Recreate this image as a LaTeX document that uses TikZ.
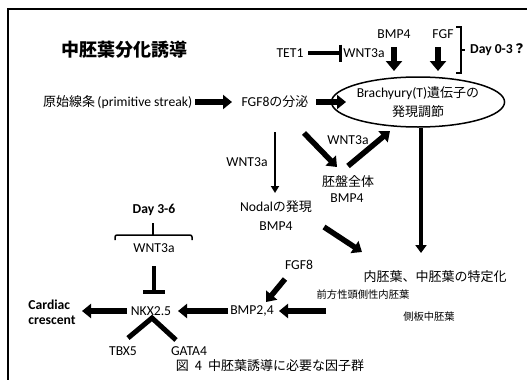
\documentclass[tikz,border=0pt]{standalone}
\usepackage{fontspec}
\setmainfont{Carlito}[Scale=1.05]
\newfontfamily\jp{Noto Sans CJK JP}
\usetikzlibrary{arrows.meta,shapes.geometric}
\begin{document}
\begin{tikzpicture}[x=1pt,y=-1pt,
  txt/.style={inner sep=0pt,font=\fontsize{13}{15}\selectfont},
  smalltxt/.style={inner sep=0pt,font=\jp\fontsize{10.3}{12}\selectfont},
  boldtxt/.style={inner sep=0pt,font=\bfseries\fontsize{13}{15}\selectfont},
  titletxt/.style={inner sep=0pt,font=\jp\bfseries\fontsize{18}{20}\selectfont},
  bigarrow/.style={line width=5.5pt,-{Triangle[width=14pt,length=9pt]}},
  downarrow/.style={line width=6pt,-{Triangle[width=16pt,length=10pt]}},
  medarrow/.style={line width=4pt,-{Triangle[width=11pt,length=8pt]}},
  thinarrow/.style={line width=2.5pt,-{Triangle[width=8pt,length=7pt]}},
  inhline/.style={line width=4.5pt},
  thinline/.style={line width=1.5pt}
]
\useasboundingbox (0,0) rectangle (527,380);
% frame
\draw[thinline] (527,9) -- (8,9) -- (8,380);

% nodes
\node[titletxt] (title) at (124,50) {中胚葉分化誘導};
\node[txt] (tet) at (290,53) {TET1};
\node[txt] (wnt1) at (364,53) {WNT3a};
\node[txt] (bmp4a) at (394,34) {BMP4};
\node[txt] (fgf) at (443,34) {FGF};
\node[boldtxt] (day03) at (498,50) {Day 0-3{\jp\bfseries ？}};
\node[draw,thinline,ellipse,minimum width=138pt,minimum height=50pt,inner sep=0pt,
      align=center,font=\fontsize{13}{19}\selectfont] (ell) at (418,102)
      {Brachyury(T){\jp 遺伝子の}\\{\jp 発現調節}};
\node[txt,anchor=west] (prim) at (43,102) {{\jp 原始線条}\,(primitive streak)};
\node[txt] (fgf8) at (275,102) {FGF8{\jp の分泌}};
\node[txt] (wntL) at (247,162) {WNT3a};
\node[txt] (wntM) at (348,140) {WNT3a};
\node[txt] (taiban) at (348,182) {\jp 胚盤全体};
\node[txt] (bmp4b) at (347,198) {BMP4};
\node[txt] (nodal) at (276,207) {Nodal{\jp の発現}};
\node[txt] (bmp4c) at (276,226) {BMP4};
\node[txt] (naichu) at (435,277) {\jp 内胚葉、中胚葉の特定化};
\node[txt] (fgf8b) at (299,265) {FGF8};
\node[smalltxt] (zenpo) at (363,295) {前方性頭側性内胚葉};
\node[smalltxt] (sokuban) at (429,317) {側板中胚葉};
\node[txt] (bmp24) at (252,311) {BMP2,4};
\node[txt] (nkx) at (151,311) {NKX2.5};
\node[boldtxt,align=left] (cardiac) at (52,312) {Cardiac\\crescent};
\node[txt] (wnt3) at (154,248) {WNT3a};
\node[boldtxt] (day36) at (154,210) {Day 3-6};
\node[txt] (tbx5) at (123,351) {TBX5};
\node[txt] (gata4) at (189,351) {GATA4};
\node[txt] (caption) at (270,366) {\jp 図\hspace{6pt}4\hspace{6pt}中胚葉誘導に必要な因子群};

% connectors
\draw[bigarrow] ([shift={(3,0)}]prim.east) -- ([shift={(-43,0)}]fgf8.center);
\draw[bigarrow] ([shift={(41,0)}]fgf8.center) -- ([shift={(-72,0)}]ell.center);
\draw[downarrow] ([shift={(0,13)}]bmp4a.center) -- ([shift={(-24,-31)}]ell.center);
\draw[downarrow] ([shift={(-5,13)}]fgf.center) -- ([shift={(20,-31)}]ell.center);
% TET1 inhibits WNT3a
\draw[inhline] ([shift={(18,0)}]tet.center) -- ([shift={(-24,0)}]wnt1.center);
\draw[line width=3pt] ([shift={(-24,-8.5)}]wnt1.center) -- ([shift={(-24,8.5)}]wnt1.center);
% bracket Day 0-3
\draw[thinline] ([shift={(-42,-23)}]day03.center) -- ([shift={(-37,-23)}]day03.center)
   -- ([shift={(-37,23)}]day03.center) -- ([shift={(-42,23)}]day03.center);
\draw[thinline] ([shift={(-37,0)}]day03.center) -- ([shift={(-33,0)}]day03.center);
% middle
\draw[thinarrow] ([shift={(0,30)}]fgf8.center) -- ([shift={(-1,-14)}]nodal.center);
\draw[bigarrow] ([shift={(29,31)}]fgf8.center) -- ([shift={(-11,-15)}]taiban.center);
\draw[bigarrow] ([shift={(0,-16)}]taiban.center) -- ([shift={(-28,29)}]ell.center);
\draw[medarrow] ([shift={(3,26)}]ell.center) -- ([shift={(-14,-24)}]naichu.center);
\draw[bigarrow] ([shift={(48,1)}]bmp4c.center) -- ([shift={(-73,-25)}]naichu.center);
\draw[bigarrow] ([shift={(-14,14)}]fgf8b.center) -- ([shift={(14,-9)}]bmp24.center);
\draw[bigarrow] ([shift={(-37,16)}]zenpo.center) -- ([shift={(27,0)}]bmp24.center);
\draw[bigarrow] ([shift={(-24,0)}]bmp24.center) -- ([shift={(27,0)}]nkx.center);
\draw[bigarrow] ([shift={(-24,0)}]nkx.center) -- ([shift={(30,-1)}]cardiac.center);
% WNT3a inhibits NKX2.5
\draw[inhline] ([shift={(0,18)}]wnt3.center) -- ([shift={(0,44)}]wnt3.center);
\draw[inhline] ([shift={(-11,44)}]wnt3.center) -- ([shift={(11,44)}]wnt3.center);
% TBX5 / GATA4
\draw[line width=5pt] ([shift={(5,-13)}]tbx5.center) -- ([shift={(1,7)}]nkx.center)
   -- ([shift={(-13,-11)}]gata4.center);
% brace Day 3-6
\draw[thinline,rounded corners=2pt] ([shift={(-39,30)}]day36.center) -- ([shift={(-39,25)}]day36.center)
   -- ([shift={(38,25)}]day36.center) -- ([shift={(38,30)}]day36.center);
\draw[thinline] ([shift={(-1,25)}]day36.center) -- ([shift={(-1,13)}]day36.center);
\end{tikzpicture}
\end{document}
